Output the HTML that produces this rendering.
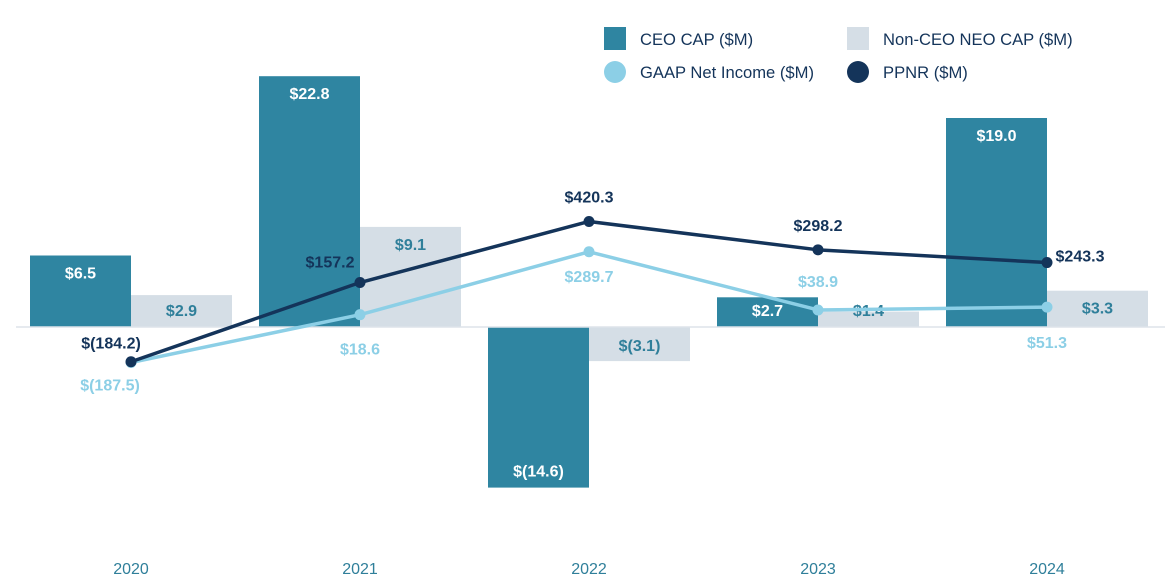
<!DOCTYPE html>
<html><head><meta charset="utf-8"><style>
body{margin:0;background:#fff}
svg{display:block;font-family:"Liberation Sans",sans-serif}
</style></head><body>
<svg id="chart" width="1174" height="582" viewBox="0 0 1174 582">
<g>
<rect x="604" y="27" width="22" height="23" fill="#2f85a1"/>
<text x="640" y="45" font-size="16.6" fill="#14345a">CEO CAP ($M)</text>
<rect x="847" y="27" width="22" height="23" fill="#d5dee6"/>
<text x="883" y="45" font-size="16.6" fill="#14345a">Non-CEO NEO CAP ($M)</text>
<circle cx="615" cy="72" r="11" fill="#8ccfe6"/>
<text x="640" y="78" font-size="16.6" fill="#14345a">GAAP Net Income ($M)</text>
<circle cx="858" cy="72" r="11" fill="#14345a"/>
<text x="883" y="78" font-size="16.6" fill="#14345a">PPNR ($M)</text>
</g>
<g id="bars"></g>
<line x1="16" x2="1165" y1="327" y2="327" stroke="#dde3ea" stroke-width="1.5"/>
<g id="lines"></g>
<g id="xlabels"></g>
</svg>
<script>
const years=["2020","2021","2022","2023","2024"];
const ceoCap=[6.5,22.8,-14.6,2.7,19.0];
const nonCeoCap=[2.9,9.1,-3.1,1.4,3.3];
const gaap=[-187.5,18.6,289.7,38.9,51.3];
const ppnr=[-184.2,157.2,420.3,298.2,243.3];
// label placement (styling): offsets relative to point
const gaapLblDx=[-21,0,0,0,0], gaapLblDy=[28,40,30,-23,41];
const ppnrLblDx=[-20,-30,0,0,33], ppnrLblDy=[-13,-15,-19,-19,-1];

const NS="http://www.w3.org/2000/svg";
const x0=131, step=229, bw=101, zeroY=327;
const xC=i=>x0+i*step;
const yBar=v=>zeroY-v*11;
const yLine=v=>319-v*0.232;
const fmt=v=>v<0?"$("+(-v).toFixed(1)+")":"$"+v.toFixed(1);
function mk(tag,attrs,parent){const e=document.createElementNS(NS,tag);for(const k in attrs)e.setAttribute(k,attrs[k]);parent.appendChild(e);return e;}
const gb=document.getElementById("bars"),gl=document.getElementById("lines"),gx=document.getElementById("xlabels");

function bars(vals,off,fill,lblColor,name){
 vals.forEach((v,i)=>{
  const x=xC(i)+off, y=yBar(v);
  const r=mk("rect",{x:x,y:Math.min(y,zeroY),width:bw,height:Math.abs(zeroY-y),fill:fill},gb);
  
  
  let ly=v>=0?Math.min(y+23,316):Math.max(y-11,351);
  const t=mk("text",{x:x+bw/2,y:ly,"text-anchor":"middle","font-size":"16","font-weight":"bold",fill:lblColor},gb);
  t.textContent=fmt(v);
  
  
 });
}
bars(ceoCap,-bw,"#2f85a1","#ffffff","ceo-cap");
bars(nonCeoCap,0,"#d5dee6","#2f7f9a","nonceo-cap");

function line(vals,color,name,dx,dy){
 const pts=vals.map((v,i)=>xC(i)+","+yLine(v)).join(" ");
 const p=mk("polyline",{points:pts,fill:"none",stroke:color,"stroke-width":"3.5","stroke-linejoin":"round"},gl);
 
 
 vals.forEach((v,i)=>{
  const c=mk("circle",{cx:xC(i),cy:yLine(v),r:5.5,fill:color},gl);
  
  
  const t=mk("text",{x:xC(i)+dx[i],y:yLine(v)+dy[i],"text-anchor":"middle","font-size":"16","font-weight":"bold",fill:color},gl);
  t.textContent=fmt(v);
  
  
 });
}
line(gaap,"#8ccfe6","gaap",gaapLblDx,gaapLblDy);
line(ppnr,"#14345a","ppnr",ppnrLblDx,ppnrLblDy);

years.forEach((y,i)=>{
 const t=mk("text",{x:xC(i),y:574,"text-anchor":"middle","font-size":"16",fill:"#2f7f9a"},gx);
 t.textContent=y;
 
 
});
</script>
</body></html>
